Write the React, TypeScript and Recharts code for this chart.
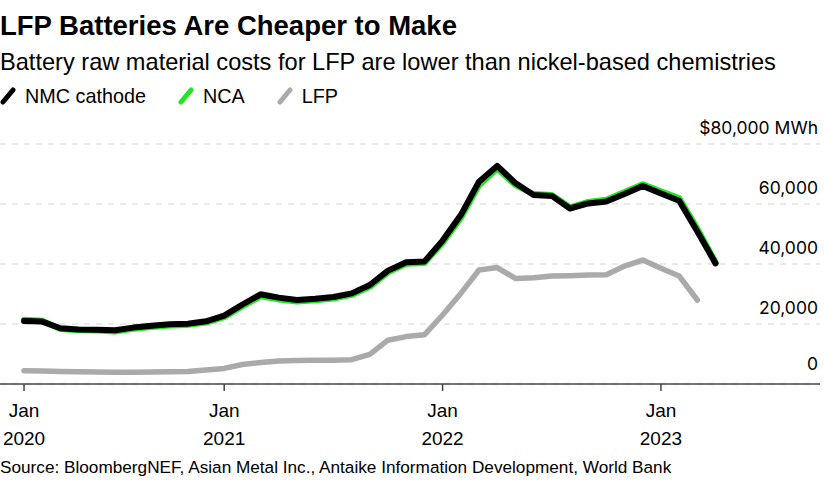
import React from 'react';
import { LineChart, Line, XAxis, YAxis, CartesianGrid } from 'recharts';

const months = [
  'Feb 2020', 'Mar 2020', 'Apr 2020', 'May 2020', 'Jun 2020', 'Jul 2020', 'Aug 2020', 'Sep 2020', 'Oct 2020', 'Nov 2020', 'Dec 2020',
  'Jan 2021', 'Feb 2021', 'Mar 2021', 'Apr 2021', 'May 2021', 'Jun 2021', 'Jul 2021', 'Aug 2021', 'Sep 2021', 'Oct 2021', 'Nov 2021', 'Dec 2021',
  'Jan 2022', 'Feb 2022', 'Mar 2022', 'Apr 2022', 'May 2022', 'Jun 2022', 'Jul 2022', 'Aug 2022', 'Sep 2022', 'Oct 2022', 'Nov 2022', 'Dec 2022',
  'Jan 2023', 'Feb 2023', 'Mar 2023', 'Apr 2023',
];

const nmcCathode = [
  21000, 20800, 18600, 18200, 18100, 17900, 18800, 19400, 19900, 20100, 20900,
  22800, 26500, 29900, 28800, 28000, 28400, 29000, 30200, 33000, 37800, 40600, 40800,
  47800, 56300, 67400, 72700, 67000, 63000, 62700, 58500, 60200, 60800, 63300, 66000,
  63500, 61100, 50800, 40200,
];

const nca = [
  21400, 21100, 18300, 17900, 17800, 17500, 18400, 19000, 19500, 19700, 20500,
  22300, 25900, 29200, 28200, 27500, 27900, 28500, 29700, 32400, 37200, 40100, 40300,
  47000, 55300, 66200, 71800, 66300, 63300, 63000, 58900, 60700, 61400, 64000, 66600,
  64200, 62000, 51800, 40600,
];

const lfp: (number | null)[] = [
  4400, 4300, 4200, 4100, 4000, 3900, 3900, 4000, 4100, 4200, 4700,
  5200, 6500, 7200, 7700, 7800, 7900, 7900, 8100, 9900, 14600, 15800, 16400,
  23000, 30200, 38000, 38800, 35200, 35400, 36000, 36100, 36300, 36400, 39300, 41300,
  38600, 36000, 28000, null,
];

const xTickValues = [1, 12, 24, 36];
const xTickMonth = ['Jan', 'Jan', 'Jan', 'Jan'];
const xTickYear = ['2020', '2021', '2022', '2023'];
const yTickValues = [0, 20000, 40000, 60000, 80000];

const data = months.map((m, i) => ({
  month: m,
  t: i + 1,
  nmc: nmcCathode[i],
  nca: nca[i],
  lfp: lfp[i],
}));

const FONT = '"Liberation Sans", Arial, Helvetica, sans-serif';
const AXIS_FONT = 'Inter, "Liberation Sans", Arial, sans-serif';

const XTick = (props: any) => {
  const { x, y, payload } = props;
  const idx = xTickValues.indexOf(payload.value);
  return (
    <g>
      <text x={x} y={y + 24} textAnchor="middle" fontFamily={FONT} fontSize={19} fill="#000">
        {xTickMonth[idx]}
      </text>
      <text x={x} y={y + 52} textAnchor="middle" fontFamily={FONT} fontSize={19} fill="#000">
        {xTickYear[idx]}
      </text>
    </g>
  );
};

const YTick = (props: any) => {
  const { x, y, payload } = props;
  const v = payload.value as number;
  const label = v === 80000 ? '$80,000 MWh' : v.toLocaleString('en-US');
  return (
    <text x={x - 2} y={y - (v === 0 ? 14 : 10)} textAnchor="end" fontFamily={AXIS_FONT} fontSize={17.5} fill="#000">
      {label}
    </text>
  );
};

const LegendMark = ({ color }: { color: string }) => (
  <svg width={16} height={18} style={{ display: 'block' }}>
    <line x1={3} y1={15} x2={13} y2={3} stroke={color} strokeWidth={5} strokeLinecap="round" />
  </svg>
);

const legendItems = [
  { label: 'NMC cathode', color: '#000000' },
  { label: 'NCA', color: '#22e622' },
  { label: 'LFP', color: '#aaaaaa' },
];

export default function App() {
  return (
    <div style={{ position: 'absolute', left: 0, top: 0, width: 824, height: 497, background: '#fff', overflow: 'hidden' }}>
      <div style={{ position: 'absolute', left: 0, top: 12, fontFamily: FONT, fontWeight: 700, fontSize: 27.5, lineHeight: '27.5px', whiteSpace: 'nowrap', color: '#000' }}>
        LFP Batteries Are Cheaper to Make
      </div>
      <div style={{ position: 'absolute', left: 0, top: 51, fontFamily: FONT, fontSize: 23.6, lineHeight: '23.6px', whiteSpace: 'nowrap', color: '#000' }}>
        Battery raw material costs for LFP are lower than nickel-based chemistries
      </div>
      <div style={{ position: 'absolute', left: 0, top: 86, display: 'flex', alignItems: 'center', fontFamily: FONT, fontSize: 19.8, lineHeight: '20px', whiteSpace: 'nowrap', color: '#000' }}>
        {legendItems.map((it) => (
          <div key={it.label} style={{ display: 'flex', alignItems: 'center', marginRight: 32 }}>
            <LegendMark color={it.color} />
            <span style={{ marginLeft: 9 }}>{it.label}</span>
          </div>
        ))}
      </div>
      <div style={{ position: 'absolute', left: 0, top: 0 }}>
        <LineChart
          width={824}
          height={497}
          data={data}
          margin={{ top: 144, right: 4, bottom: 53, left: 0 }}
        >
          <CartesianGrid vertical={false} stroke="#d6d6d6" strokeDasharray="6 6" strokeWidth={1.2} />
          <XAxis
            dataKey="t"
            type="number"
            domain={[-0.32, 44.74]}
            allowDataOverflow
            ticks={xTickValues}
            interval={0}
            height={60}
            axisLine={{ stroke: '#444', strokeWidth: 1.5 }}
            tickLine={{ stroke: '#444', strokeWidth: 1.5 }}
            tickSize={7}
            tickMargin={2}
            tick={<XTick />}
          />
          <YAxis
            orientation="right"
            mirror
            width={80}
            domain={[0, 80000]}
            ticks={yTickValues}
            interval={0}
            axisLine={false}
            tickLine={false}
            tickSize={0}
            tickMargin={0}
            tick={<YTick />}
          />
          <Line type="linear" dataKey="lfp" stroke="#aaaaaa" strokeWidth={5.5} dot={false} strokeLinecap="round" strokeLinejoin="round" isAnimationActive={false} connectNulls={false} />
          <Line type="linear" dataKey="nca" stroke="#22e622" strokeWidth={6} dot={false} strokeLinecap="round" strokeLinejoin="round" isAnimationActive={false} />
          <Line type="linear" dataKey="nmc" stroke="#000000" strokeWidth={6} dot={false} strokeLinecap="round" strokeLinejoin="round" isAnimationActive={false} />
        </LineChart>
      </div>
      <div style={{ position: 'absolute', left: 0, top: 459, fontFamily: FONT, fontSize: 17.2, lineHeight: '17.2px', whiteSpace: 'nowrap', color: '#000' }}>
        Source: BloombergNEF, Asian Metal Inc., Antaike Information Development, World Bank
      </div>
    </div>
  );
}
